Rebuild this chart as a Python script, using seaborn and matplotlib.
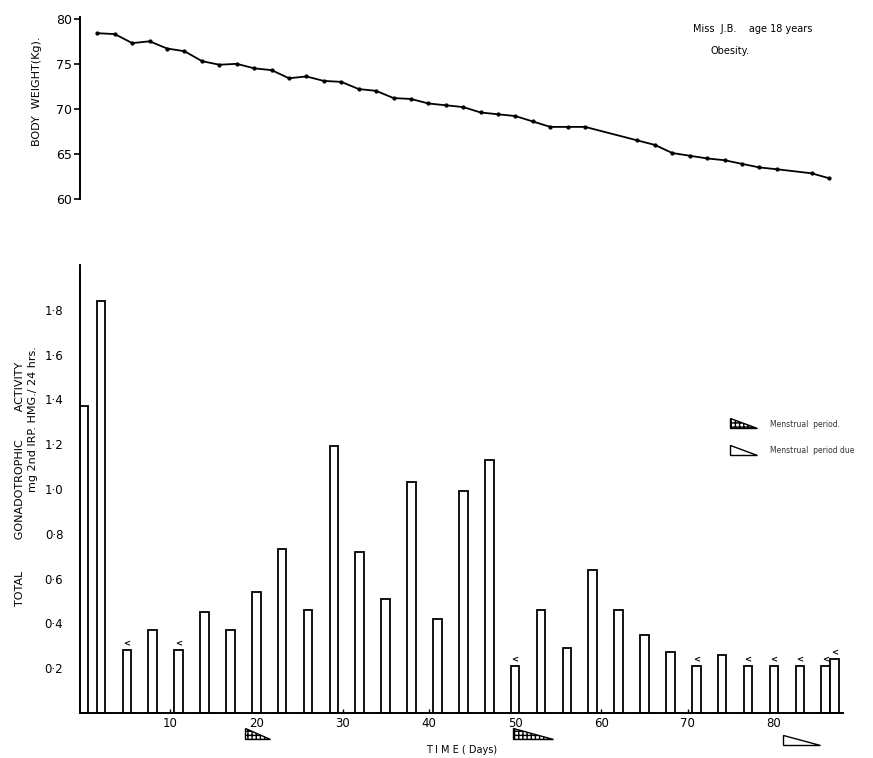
import matplotlib
matplotlib.use("Agg")
import matplotlib.pyplot as plt
import seaborn as sns
import pandas as pd
from matplotlib.patches import Polygon

# --- Body weight (kg) every 2 days ---
weight_days = [2, 4, 6, 8, 10, 12, 14, 16, 18, 20, 22, 24, 26, 28, 30, 32, 34, 36, 38, 40,
               42, 44, 46, 48, 50, 52, 54, 56, 58, 64, 66, 68, 70, 72, 74, 76, 78, 80, 84, 86]
weight_kg = [78.4, 78.3, 77.3, 77.5, 76.7, 76.4, 75.3, 74.9, 75.0, 74.5, 74.3, 73.4, 73.6, 73.1,
             73.0, 72.2, 72.0, 71.2, 71.1, 70.6, 70.4, 70.2, 69.6, 69.4, 69.2, 68.6, 68.0, 68.0,
             68.0, 66.5, 66.0, 65.1, 64.8, 64.5, 64.3, 63.9, 63.5, 63.3, 62.85, 62.3]

# --- Total gonadotrophic activity (mg 2nd IRP HMG / 24 hrs) ---
bar_days = [0, 2, 5, 8, 11, 14, 17, 20, 23, 26, 29, 32, 35, 38, 41, 44, 47, 50, 53, 56,
            59, 62, 65, 68, 71, 74, 77, 80, 83, 86, 87]
bar_vals = [1.37, 1.84, 0.28, 0.37, 0.28, 0.45, 0.37, 0.54, 0.73, 0.46, 1.19, 0.72, 0.51, 1.03,
            0.42, 0.99, 1.13, 0.21, 0.46, 0.29, 0.64, 0.46, 0.35, 0.27, 0.21, 0.26, 0.21, 0.21,
            0.21, 0.21, 0.24]
less_than_days = [5, 11, 50, 71, 77, 80, 83, 86, 87]

# menstrual markers under the time axis: (start day, end day, kind)
period_marks = [(18.7, 21.6, "period"), (49.8, 54.4, "period"), (81.0, 85.3, "due")]

x_ticks = [10, 20, 30, 40, 50, 60, 70, 80]
y_ticks_bottom = [0.2, 0.4, 0.6, 0.8, 1.0, 1.2, 1.4, 1.6, 1.8]
y_ticks_top = [60, 65, 70, 75, 80]

sns.set_style("ticks")
plt.rcParams["font.family"] = ["DejaVu Sans"]
plt.rcParams["axes.linewidth"] = 1.4
plt.rcParams["text.color"] = "black"
plt.rcParams["xtick.color"] = "black"
plt.rcParams["ytick.color"] = "black"
plt.rcParams["axes.edgecolor"] = "black"

fig = plt.figure(figsize=(8.73, 7.58), dpi=100)
ax_top = fig.add_axes([0.0916, 0.7375, 0.874, 0.2401])
ax = fig.add_axes([0.0916, 0.0594, 0.874, 0.591])

# --- Top: body weight ---
sns.lineplot(x=weight_days, y=weight_kg, ax=ax_top, color="black", linewidth=1.3,
             marker="o", markersize=2.3, markeredgecolor="black")
ax_top.set_xlim(0, 87.6)
ax_top.set_ylim(60, 80.2)
ax_top.set_yticks(y_ticks_top)
ax_top.set_xticks([])
for s in ["top", "right", "bottom"]:
    ax_top.spines[s].set_visible(False)
ax_top.spines["left"].set_bounds(60, 80.2)
ax_top.tick_params(axis="y", direction="out", length=4, width=1.2, pad=2, labelsize=9)
ax_top.set_ylabel("")
ax_top.text(0.803, 0.934, "Miss  J.B.    age 18 years", transform=ax_top.transAxes,
            fontsize=7, ha="left", va="center")
ax_top.text(0.827, 0.813, "Obesity.", transform=ax_top.transAxes,
            fontsize=7, ha="left", va="center")

# --- Bottom: gonadotrophic activity bars ---
df = pd.DataFrame({"day": bar_days, "val": bar_vals})
sns.barplot(data=df, x="day", y="val", native_scale=True, ax=ax, color="white",
            saturation=1, edgecolor="black", linewidth=1.3, width=1.0, errorbar=None)
ax.set_xlim(-0.43, 88.0)
ax.set_ylim(0, 2.0)
ax.set_xticks(x_ticks)
ax.set_xticklabels([str(t) for t in x_ticks])
ax.set_yticks(y_ticks_bottom)
ax.set_yticklabels([f"{t:.1f}".replace(".", "·") for t in y_ticks_bottom])
ax.tick_params(axis="y", length=0, pad=12, labelsize=8.5)
ax.tick_params(axis="x", direction="in", length=3, width=1, pad=3, labelsize=8.5)
ax.set_xlabel("")
ax.set_ylabel("")
for s in ["top", "right"]:
    ax.spines[s].set_visible(False)

for d in less_than_days:
    v = bar_vals[bar_days.index(d)]
    ax.text(d, v + 0.008, "<", fontsize=6, fontweight="bold", ha="center", va="bottom")

def tri(x0, x1, y0, y1, kind):
    pts = [(x0, y0), (x0, y1), (x1, y1)]
    if kind == "period":
        p = Polygon(pts, closed=True, facecolor="white", edgecolor="black",
                    linewidth=1.0, hatch="++++", clip_on=False)
    else:
        p = Polygon(pts, closed=True, facecolor="white", edgecolor="black",
                    linewidth=1.0, clip_on=False)
    ax.add_patch(p)

for x0, x1, kind in period_marks:
    if kind == "period":
        tri(x0, x1, -0.067, -0.115, kind)
    else:
        tri(x0, x1, -0.10, -0.143, kind)

# legend
tri(74.9, 78.0, 1.317, 1.272, "period")
tri(74.9, 78.0, 1.196, 1.152, "due")
ax.text(79.5, 1.290, "Menstrual  period.", fontsize=5.5, color="#333333", va="center")
ax.text(79.5, 1.170, "Menstrual  period due", fontsize=5.5, color="#333333", va="center")

# axis titles
fig.text(0.042, 0.88, "BODY  WEIGHT(Kg).", rotation=90, ha="center", va="center",
         fontsize=8)
fig.text(0.023, 0.362, "TOTAL         GONADOTROPHIC        ACTIVITY", rotation=90,
         ha="center", va="center", fontsize=8)
fig.text(0.038, 0.447, "mg 2nd IRP. HMG./ 24 hrs.", rotation=90,
         ha="center", va="center", fontsize=8)
fig.text(0.529, 0.011, "T I M E ( Days)", ha="center", va="center", fontsize=7)

fig.savefig("out.png", dpi=100)
